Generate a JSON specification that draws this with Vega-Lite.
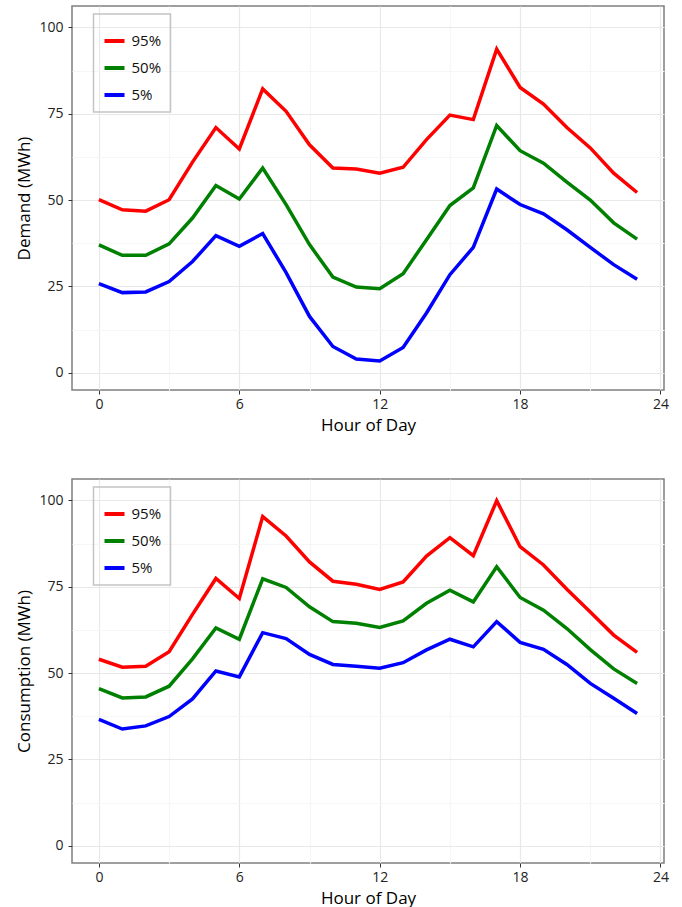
{
  "$schema": "https://vega.github.io/schema/vega-lite/v6.json",
  "padding": {"left": 15, "top": 5, "right": 0, "bottom": 0},
  "spacing": 44,
  "config": {
    "font": "Open Sans",
    "view": {"stroke": "#7f7f7f", "strokeWidth": 1.5},
    "axis": {
      "labelFont": "Open Sans", "labelFontSize": 14, "labelColor": "#222",
      "titleFont": "Open Sans", "titleFontSize": 17, "titleFontWeight": "normal", "titleColor": "#000",
      "tickColor": "#333", "tickSize": 4, "tickWidth": 1, "domain": false,
      "gridWidth": 1.2, "labelOverlap": false, "labelFlush": false
    },
    "legend": {
      "orient": "none", "legendX": 21.5, "legendY": 8,
      "strokeColor": "#c4c4c4", "strokeWidth": 1.5, "padding": 9,
      "symbolType": "stroke", "symbolStrokeWidth": 4, "symbolSize": 400,
      "labelFont": "Open Sans", "labelFontSize": 15, "labelColor": "#111", "labelOffset": 5,
      "titleFontSize": 6, "titlePadding": 0, "rowPadding": 7
    }
  },
  "resolve": {"legend": {"color": "independent"}},
  "datasets": {
    "demand": [
      {"hour":0,"q":"95%","value":50.1},{"hour":1,"q":"95%","value":47.2},{"hour":2,"q":"95%","value":46.8},{"hour":3,"q":"95%","value":50.1},{"hour":4,"q":"95%","value":61.0},{"hour":5,"q":"95%","value":71.0},{"hour":6,"q":"95%","value":64.8},{"hour":7,"q":"95%","value":82.2},{"hour":8,"q":"95%","value":75.7},{"hour":9,"q":"95%","value":66.0},{"hour":10,"q":"95%","value":59.3},{"hour":11,"q":"95%","value":59.0},{"hour":12,"q":"95%","value":57.8},{"hour":13,"q":"95%","value":59.5},{"hour":14,"q":"95%","value":67.5},{"hour":15,"q":"95%","value":74.6},{"hour":16,"q":"95%","value":73.3},{"hour":17,"q":"95%","value":93.7},{"hour":18,"q":"95%","value":82.6},{"hour":19,"q":"95%","value":77.8},{"hour":20,"q":"95%","value":71.0},{"hour":21,"q":"95%","value":65.1},{"hour":22,"q":"95%","value":57.8},{"hour":23,"q":"95%","value":52.2},
      {"hour":0,"q":"50%","value":37.0},{"hour":1,"q":"50%","value":34.0},{"hour":2,"q":"50%","value":34.0},{"hour":3,"q":"50%","value":37.3},{"hour":4,"q":"50%","value":44.8},{"hour":5,"q":"50%","value":54.2},{"hour":6,"q":"50%","value":50.3},{"hour":7,"q":"50%","value":59.3},{"hour":8,"q":"50%","value":48.7},{"hour":9,"q":"50%","value":37.1},{"hour":10,"q":"50%","value":27.7},{"hour":11,"q":"50%","value":24.8},{"hour":12,"q":"50%","value":24.3},{"hour":13,"q":"50%","value":28.7},{"hour":14,"q":"50%","value":38.5},{"hour":15,"q":"50%","value":48.4},{"hour":16,"q":"50%","value":53.5},{"hour":17,"q":"50%","value":71.6},{"hour":18,"q":"50%","value":64.3},{"hour":19,"q":"50%","value":60.7},{"hour":20,"q":"50%","value":55.2},{"hour":21,"q":"50%","value":50.0},{"hour":22,"q":"50%","value":43.4},{"hour":23,"q":"50%","value":38.7},
      {"hour":0,"q":"5%","value":25.8},{"hour":1,"q":"5%","value":23.2},{"hour":2,"q":"5%","value":23.4},{"hour":3,"q":"5%","value":26.4},{"hour":4,"q":"5%","value":32.2},{"hour":5,"q":"5%","value":39.7},{"hour":6,"q":"5%","value":36.6},{"hour":7,"q":"5%","value":40.3},{"hour":8,"q":"5%","value":29.0},{"hour":9,"q":"5%","value":16.3},{"hour":10,"q":"5%","value":7.6},{"hour":11,"q":"5%","value":4.0},{"hour":12,"q":"5%","value":3.4},{"hour":13,"q":"5%","value":7.3},{"hour":14,"q":"5%","value":17.3},{"hour":15,"q":"5%","value":28.4},{"hour":16,"q":"5%","value":36.3},{"hour":17,"q":"5%","value":53.2},{"hour":18,"q":"5%","value":48.7},{"hour":19,"q":"5%","value":46.0},{"hour":20,"q":"5%","value":41.4},{"hour":21,"q":"5%","value":36.3},{"hour":22,"q":"5%","value":31.3},{"hour":23,"q":"5%","value":27.1}
    ],
    "consumption": [
      {"hour":0,"q":"95%","value":54.0},{"hour":1,"q":"95%","value":51.7},{"hour":2,"q":"95%","value":52.0},{"hour":3,"q":"95%","value":56.2},{"hour":4,"q":"95%","value":67.0},{"hour":5,"q":"95%","value":77.4},{"hour":6,"q":"95%","value":71.6},{"hour":7,"q":"95%","value":95.3},{"hour":8,"q":"95%","value":89.7},{"hour":9,"q":"95%","value":82.2},{"hour":10,"q":"95%","value":76.6},{"hour":11,"q":"95%","value":75.7},{"hour":12,"q":"95%","value":74.2},{"hour":13,"q":"95%","value":76.4},{"hour":14,"q":"95%","value":83.9},{"hour":15,"q":"95%","value":89.2},{"hour":16,"q":"95%","value":84.0},{"hour":17,"q":"95%","value":99.9},{"hour":18,"q":"95%","value":86.6},{"hour":19,"q":"95%","value":81.3},{"hour":20,"q":"95%","value":74.3},{"hour":21,"q":"95%","value":67.7},{"hour":22,"q":"95%","value":61.0},{"hour":23,"q":"95%","value":56.0},
      {"hour":0,"q":"50%","value":45.5},{"hour":1,"q":"50%","value":42.8},{"hour":2,"q":"50%","value":43.1},{"hour":3,"q":"50%","value":46.2},{"hour":4,"q":"50%","value":54.1},{"hour":5,"q":"50%","value":63.1},{"hour":6,"q":"50%","value":59.8},{"hour":7,"q":"50%","value":77.3},{"hour":8,"q":"50%","value":74.8},{"hour":9,"q":"50%","value":69.2},{"hour":10,"q":"50%","value":64.9},{"hour":11,"q":"50%","value":64.4},{"hour":12,"q":"50%","value":63.2},{"hour":13,"q":"50%","value":65.1},{"hour":14,"q":"50%","value":70.2},{"hour":15,"q":"50%","value":74.0},{"hour":16,"q":"50%","value":70.6},{"hour":17,"q":"50%","value":80.8},{"hour":18,"q":"50%","value":71.9},{"hour":19,"q":"50%","value":68.2},{"hour":20,"q":"50%","value":62.9},{"hour":21,"q":"50%","value":56.8},{"hour":22,"q":"50%","value":51.2},{"hour":23,"q":"50%","value":47.0},
      {"hour":0,"q":"5%","value":36.6},{"hour":1,"q":"5%","value":33.8},{"hour":2,"q":"5%","value":34.7},{"hour":3,"q":"5%","value":37.4},{"hour":4,"q":"5%","value":42.5},{"hour":5,"q":"5%","value":50.6},{"hour":6,"q":"5%","value":48.9},{"hour":7,"q":"5%","value":61.7},{"hour":8,"q":"5%","value":60.0},{"hour":9,"q":"5%","value":55.4},{"hour":10,"q":"5%","value":52.5},{"hour":11,"q":"5%","value":52.0},{"hour":12,"q":"5%","value":51.4},{"hour":13,"q":"5%","value":53.0},{"hour":14,"q":"5%","value":56.7},{"hour":15,"q":"5%","value":59.8},{"hour":16,"q":"5%","value":57.6},{"hour":17,"q":"5%","value":64.9},{"hour":18,"q":"5%","value":58.9},{"hour":19,"q":"5%","value":56.9},{"hour":20,"q":"5%","value":52.5},{"hour":21,"q":"5%","value":47.0},{"hour":22,"q":"5%","value":42.7},{"hour":23,"q":"5%","value":38.3}
    ]
  },
  "vconcat": [
    {
      "width": 592, "height": 384,
      "data": {"name": "demand"},
      "mark": {"type": "line", "strokeWidth": 3.5},
      "encoding": {
        "x": {"field": "hour", "type": "quantitative", "title": "Hour of Day",
          "scale": {"domain": [-1.15, 24.15], "nice": false, "zero": false},
          "axis": {"values": [0,3,6,9,12,15,18,21,24], "labelExpr": "datum.value % 6 === 0 ? datum.label : ''",
            "tickOpacity": {"condition": {"test": "datum.value % 6 !== 0", "value": 0}, "value": 1},
            "gridColor": {"condition": {"test": "datum.value % 6 !== 0", "value": "#f6f6f6"}, "value": "#e8e8e8"},
            "labelPadding": 3, "titlePadding": 6}},
        "y": {"field": "value", "type": "quantitative", "title": "Demand (MWh)",
          "scale": {"domain": [-5, 106.2], "nice": false, "zero": false},
          "axis": {"values": [0,12.5,25,37.5,50,62.5,75,87.5,100], "labelExpr": "datum.value % 25 === 0 ? datum.label : ''",
            "tickOpacity": {"condition": {"test": "datum.value % 25 !== 0", "value": 0}, "value": 1},
            "gridColor": {"condition": {"test": "datum.value % 25 !== 0", "value": "#f6f6f6"}, "value": "#e8e8e8"},
            "labelPadding": 5, "titlePadding": 5}},
        "color": {"field": "q", "type": "nominal",
          "scale": {"domain": ["95%","50%","5%"], "range": ["#ff0000","#008000","#0000ff"]},
          "legend": {"title": "\u00a0"}}
      }
    },
    {
      "width": 592, "height": 384,
      "data": {"name": "consumption"},
      "mark": {"type": "line", "strokeWidth": 3.5},
      "encoding": {
        "x": {"field": "hour", "type": "quantitative", "title": "Hour of Day",
          "scale": {"domain": [-1.15, 24.15], "nice": false, "zero": false},
          "axis": {"values": [0,3,6,9,12,15,18,21,24], "labelExpr": "datum.value % 6 === 0 ? datum.label : ''",
            "tickOpacity": {"condition": {"test": "datum.value % 6 !== 0", "value": 0}, "value": 1},
            "gridColor": {"condition": {"test": "datum.value % 6 !== 0", "value": "#f6f6f6"}, "value": "#e8e8e8"},
            "labelPadding": 3, "titlePadding": 6}},
        "y": {"field": "value", "type": "quantitative", "title": "Consumption (MWh)",
          "scale": {"domain": [-5, 106.2], "nice": false, "zero": false},
          "axis": {"values": [0,12.5,25,37.5,50,62.5,75,87.5,100], "labelExpr": "datum.value % 25 === 0 ? datum.label : ''",
            "tickOpacity": {"condition": {"test": "datum.value % 25 !== 0", "value": 0}, "value": 1},
            "gridColor": {"condition": {"test": "datum.value % 25 !== 0", "value": "#f6f6f6"}, "value": "#e8e8e8"},
            "labelPadding": 5, "titlePadding": 5}},
        "color": {"field": "q", "type": "nominal",
          "scale": {"domain": ["95%","50%","5%"], "range": ["#ff0000","#008000","#0000ff"]},
          "legend": {"title": "\u00a0"}}
      }
    }
  ]
}
